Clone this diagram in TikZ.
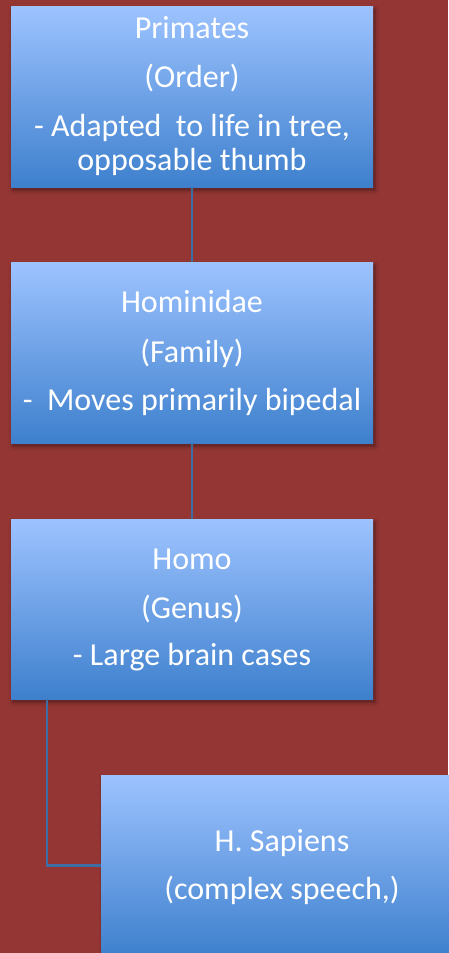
\documentclass[tikz,border=0pt]{standalone}
\usepackage{fontspec}
\setmainfont{Carlito}
\usetikzlibrary{calc,shadows.blur}

\definecolor{bgred}{HTML}{943634}
\definecolor{boxtop}{HTML}{9DC3FF}
\definecolor{boxbot}{HTML}{3E80CD}
\definecolor{linkblue}{HTML}{3E6DA3}

\tikzset{
  rankbox/.style={rectangle, inner sep=0pt, minimum width=362pt,
    minimum height=181pt, top color=boxtop, bottom color=boxbot,
    blur shadow={shadow xshift=2pt, shadow yshift=-3pt,
      shadow blur radius=4pt, shadow opacity=45}},
  rankline/.style={anchor=base, text=white, inner sep=0pt,
    font=\fontsize{32}{34}\selectfont},
  link/.style={draw=linkblue, line width=2.2pt}
}

\begin{document}
\begin{tikzpicture}[x=1pt, y=-1pt]
  \fill[bgred] (0,0) rectangle (448,953);
  \useasboundingbox (0,0) rectangle (448,953);

  % taxonomic ranks
  \node[rankbox] (order) at (192,96.5) {};
  \node[rankbox] (family) at (192,352.5) {};
  \node[rankbox, minimum height=180pt] (genus) at (192,609) {};
  \node[rankbox] (species) at (282,865.5) {};

  % links between ranks, running edge to edge
  \draw[link] (order.south) -- (family.north);
  \draw[link] (family.south) -- (genus.north);
  \coordinate (drop) at ($(genus.south west)+(36,0)$);
  \draw[link] (drop) |- (species.west);

  % labels
  \node[rankline] (o1) at ($(order.north)+(0,33)$) {Primates};
  \node[rankline] (o2) at ($(order.north)+(0,82)$) {(Order)};
  \node[rankline] (o3) at ($(order.north)+(0,131)$) {- Adapted~ to life in tree,};
  \node[rankline] (o4) at ($(order.north)+(0,165)$) {opposable thumb};

  \node[rankline] (f1) at ($(family.north)+(0,51)$) {Hominidae};
  \node[rankline] (f2) at ($(family.north)+(0,101)$) {(Family)};
  \node[rankline] (f3) at ($(family.north)+(0,149)$) {-~ Moves primarily bipedal};

  \node[rankline] (g1) at ($(genus.north)+(0,51)$) {Homo};
  \node[rankline] (g2) at ($(genus.north)+(0,100)$) {(Genus)};
  \node[rankline] (g3) at ($(genus.north)+(0,147)$) {- Large brain cases};

  \node[rankline] (s1) at ($(species.north)+(0,77)$) {H. Sapiens};
  \node[rankline] (s2) at ($(species.north)+(0,125)$) {(complex speech,)};
\end{tikzpicture}
\end{document}
